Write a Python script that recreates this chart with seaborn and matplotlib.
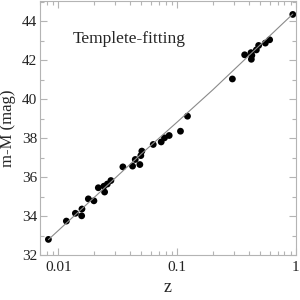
import numpy as np
import pandas as pd
import matplotlib
matplotlib.use("Agg")
import matplotlib.pyplot as plt
import seaborn as sns
from matplotlib.ticker import LogLocator, FixedLocator, MultipleLocator, FixedFormatter

# redshift and distance modulus of the template-fitted objects
z_obs = [0.00824, 0.01167, 0.0139, 0.01579, 0.0157, 0.01787, 0.01991, 0.02168,
         0.02416, 0.02449, 0.02581, 0.02767, 0.0349, 0.0421, 0.04436, 0.0485,
         0.04944, 0.05041, 0.06285, 0.07336, 0.07819, 0.08566, 0.1066, 0.1221,
         0.2915, 0.3698, 0.4184, 0.4251, 0.421, 0.4638, 0.4849, 0.5521,
         0.6002, 0.9399]
mu_obs = [32.80, 33.74, 34.14, 34.36, 34.01, 34.88, 34.78, 35.45,
          35.53, 35.23, 35.64, 35.82, 36.52, 36.56, 36.90, 36.64,
          37.10, 37.33, 37.67, 37.80, 38.01, 38.13, 38.35, 39.12,
          41.03, 42.27, 42.38, 42.24, 42.04, 42.52, 42.75, 42.87,
          43.04, 44.34]

# fitted curve, sampled along the drawn line
z_fit = [0.00824, 0.01, 0.02, 0.05, 0.1, 0.2, 0.5, 0.94]
mu_fit = [32.79, 33.26, 34.95, 37.19, 38.82, 40.48, 42.78, 44.36]

x_ticks = [0.01, 0.1, 1]
x_labels = ["0.01", "0.1", "1"]
y_ticks = [32, 34, 36, 38, 40, 42, 44]

sns.set_style("ticks")
plt.rcParams["font.family"] = ["Liberation Serif", "DejaVu Serif"]

fig = plt.figure(figsize=(3, 3), dpi=100)
ax = fig.add_axes([0.1333, 0.15, 0.8533, 0.848])

sns.lineplot(x=z_fit, y=mu_fit, ax=ax, color="#8a8a8a", linewidth=0.8)
sns.scatterplot(x=z_obs, y=mu_obs, ax=ax, color="black", s=24, edgecolor="none")

ax.set_xscale("log")
ax.set_xlim(0.007, 1.0)
ax.set_ylim(32, 45.05)

ax.xaxis.set_major_locator(FixedLocator(x_ticks))
ax.xaxis.set_major_formatter(FixedFormatter(x_labels))
ax.xaxis.set_minor_locator(LogLocator(base=10, subs=np.arange(2, 10), numticks=10))
ax.yaxis.set_major_locator(FixedLocator(y_ticks))
ax.yaxis.set_minor_locator(MultipleLocator(1))

for side in ["left", "right", "top", "bottom"]:
    ax.spines[side].set_color("#b4b4b4")
    ax.spines[side].set_linewidth(0.8)

ax.tick_params(which="both", direction="in", top=True, right=True,
               color="#b4b4b4", width=0.8)
ax.tick_params(which="major", length=5, labelsize=11, labelcolor="#222222")
ax.tick_params(which="minor", length=3)
ax.tick_params(axis="x", which="major", pad=4)
ax.tick_params(axis="y", which="major", pad=2)

ax.set_xlabel("z", fontsize=13, labelpad=4)
ax.set_ylabel("m-M (mag)", fontsize=12, labelpad=4)

ax.text(0.128, 0.835, "Templete-fitting", transform=ax.transAxes,
        fontsize=12.5, va="baseline", ha="left")

fig.savefig("out.png", dpi=100)
